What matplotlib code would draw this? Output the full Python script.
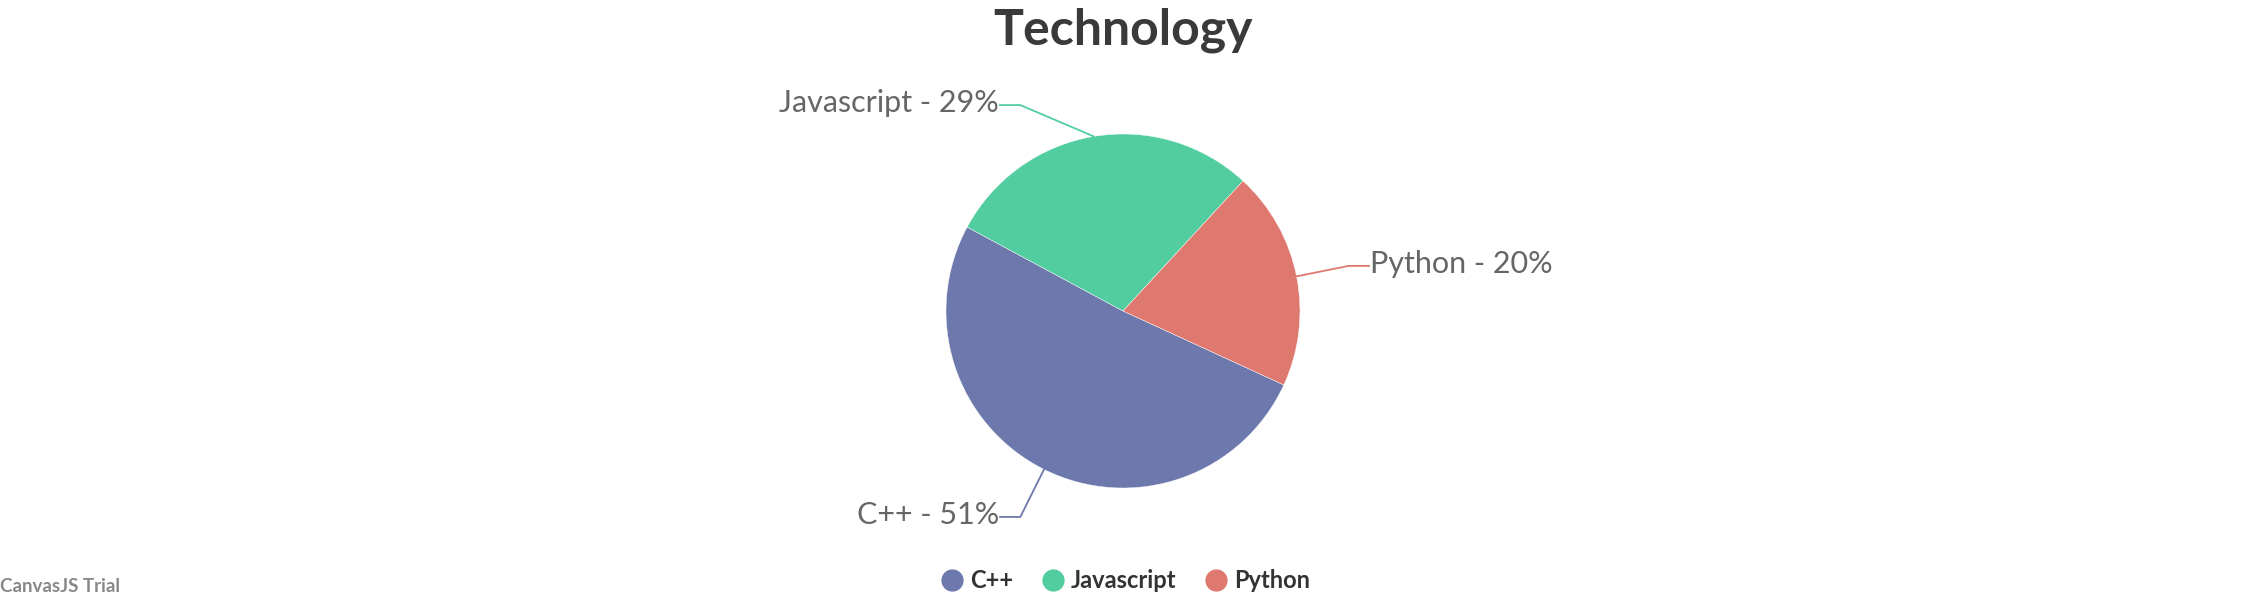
import numpy as np
import matplotlib
matplotlib.use("Agg")
import matplotlib.pyplot as plt
from matplotlib.lines import Line2D

# chart data
labels = ["C++", "Javascript", "Python"]
shares = [51, 29, 20]
colors = ["#6D78AD", "#51CDA0", "#DF7970"]
title = "Technology"

plt.rcParams["font.family"] = ["Lato", "DejaVu Sans"]

W, H = 2248, 600
R_PX = 177.0
cx, cy = 1123, 311  # pie centre in pixels (from top-left)

fig = plt.figure(figsize=(W / 100, H / 100), dpi=100)
ax = fig.add_axes([0, 0, 1, 1])

start = -24.7
wedges, _ = ax.pie(shares, colors=colors, startangle=start, counterclock=False,
                   radius=1.0, center=(0, 0), frame=True,
                   wedgeprops=dict(edgecolor="white", linewidth=0.3))
ax.set_xlim(-cx / R_PX, (W - cx) / R_PX)
ax.set_ylim(-(H - cy) / R_PX, cy / R_PX)
ax.set_aspect("equal")
ax.axis("off")

# index labels with leader lines
shift = {"Javascript": 17}  # label nudged away from the title
for w, lab, val, col in zip(wedges, labels, shares, colors):
    mid = np.deg2rad((w.theta1 + w.theta2) / 2)
    p0 = (np.cos(mid), np.sin(mid))
    ang = mid + np.deg2rad(shift.get(lab, 0))
    p1 = (1.3 * np.cos(ang), 1.3 * np.sin(ang))
    side = 1 if np.cos(ang) > 0 else -1
    p2 = (p1[0] + side * 0.115, p1[1])
    ax.plot([p0[0], p1[0], p2[0]], [p0[1], p1[1], p2[1]], color=col, lw=1.3,
            solid_joinstyle="miter")
    ax.text(p2[0] + side * 0.005, p2[1] + 0.012, f"{lab} - {val}%",
            ha="left" if side > 0 else "right", va="center",
            fontsize=22, color="#666666")

fig.text(0.4996, 1 - 30 / H, title, ha="center", va="center",
         fontsize=36, fontweight="bold", color="#3A3A3A")

handles = [Line2D([0], [0], marker="o", linestyle="", markersize=15,
                  markerfacecolor=c, markeredgecolor=c) for c in colors]
fig.legend(handles, labels, loc="center", bbox_to_anchor=(0.501, 1 - 581 / H),
           ncol=3, frameon=False, handlelength=0.8, handletextpad=0.35,
           columnspacing=1.3, labelcolor="#333333",
           prop=dict(family="Lato", weight="bold", size=17))

fig.text(0.0, 1 - 587 / H, "CanvasJS Trial", ha="left", va="center",
         fontsize=13.5, fontweight="bold", color="#888888")

fig.savefig("out.png", dpi=100, facecolor="white")
